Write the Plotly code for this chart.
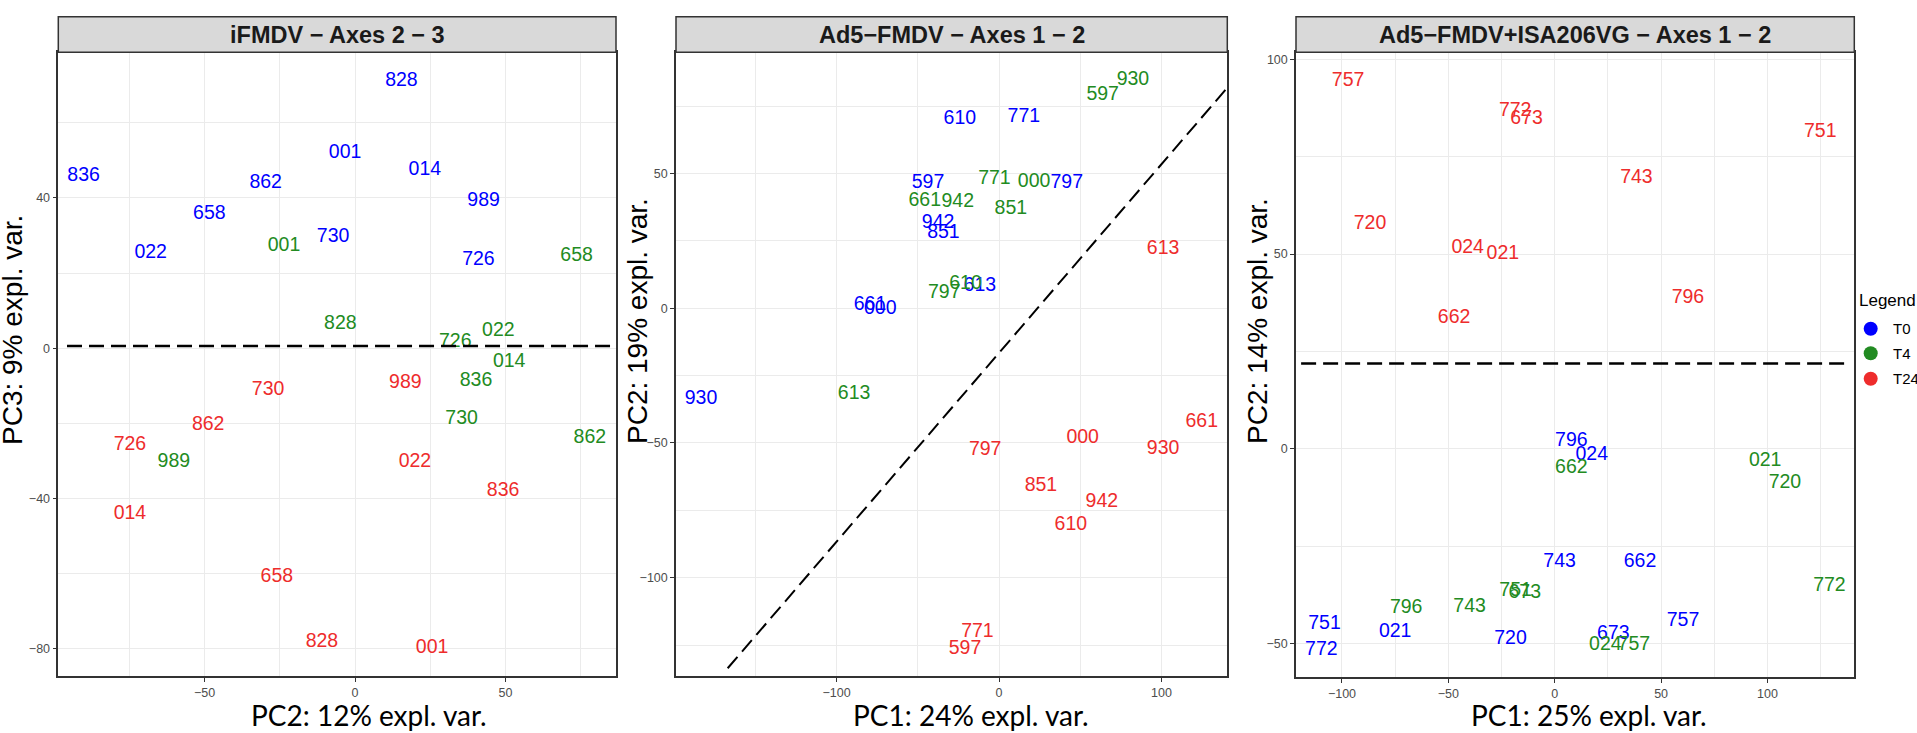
import plotly.graph_objects as go

# ------------------------------------------------------------------ data
groups = ["T0", "T4", "T24"]
group_colors = ["#0000FF", "#228B22", "#EE2C2C"]

# Panel 1 : iFMDV - Axes 2 - 3
p1_title = "iFMDV − Axes 2 − 3"
p1_xtitle = "PC2: 12% expl. var."
p1_ytitle = "PC3: 9% expl. var."
p1_ids = ["001", "014", "022", "658", "726", "730", "828", "836", "862", "989"]
p1_T0_x = [-3.3, 23.2, -67.9, -48.4, 41.0, -7.3, 15.4, -90.2, -29.7, 42.7]
p1_T0_y = [52.0, 47.5, 25.3, 35.7, 23.5, 29.6, 71.2, 45.9, 44.0, 39.2]
p1_T4_x = [-23.6, 51.2, 47.6, 73.6, 33.3, 35.4, -4.9, 40.2, 78.0, -60.2]
p1_T4_y = [27.2, -3.7, 4.5, 24.5, 1.6, -18.9, 6.4, -8.8, -24.0, -30.4]
p1_T24_x = [25.6, -74.8, 19.9, -26.0, -74.8, -28.9, -11.0, 49.2, -48.8, 16.7]
p1_T24_y = [-80.0, -44.3, -30.4, -61.0, -25.9, -11.2, -78.4, -38.1, -20.5, -9.3]
p1_hline_y = 0.6
p1_hline_x = [-95.7, 90.0]
p1_xrange = [-98.6, 86.7]
p1_yrange = [-87.3, 78.8]

# Panel 2 : Ad5-FMDV - Axes 1 - 2
p2_title = "Ad5−FMDV − Axes 1 − 2"
p2_xtitle = "PC1: 24% expl. var."
p2_ytitle = "PC2: 19% expl. var."
p2_ids = ["000", "597", "610", "613", "661", "771", "797", "851", "930", "942"]
p2_T0_x = [-73.1, -43.7, -24.1, -11.8, -79.4, 15.3, 41.7, -34.2, -183.4, -37.5]
p2_T0_y = [-0.4, 46.6, 70.3, 8.2, 1.1, 71.0, 46.4, 27.8, -33.8, 31.5]
p2_T4_x = [21.6, 63.8, -20.6, -89.2, -45.7, -2.8, -33.7, 7.3, 82.4, -25.4]
p2_T4_y = [46.8, 79.0, 8.9, -31.7, 39.8, 48.1, 5.5, 36.9, 84.5, 39.4]
p2_T24_x = [51.5, -20.9, 44.2, 101.0, 124.8, -13.3, -8.5, 25.8, 101.0, 63.3]
p2_T24_y = [-48.2, -126.5, -80.5, 22.0, -42.3, -120.3, -52.8, -66.2, -52.2, -71.9]
p2_line_slope = 0.7007
p2_line_intercept = -16.6
p2_line_x = [-167.0, 140.5]
p2_xrange = [-198.8, 140.5]
p2_yrange = [-136.5, 95.0]

# Panel 3 : Ad5-FMDV+ISA206VG - Axes 1 - 2
p3_title = "Ad5−FMDV+ISA206VG − Axes 1 − 2"
p3_xtitle = "PC1: 25% expl. var."
p3_ytitle = "PC2: 14% expl. var."
p3_ids = ["021", "024", "662", "673", "720", "743", "751", "757", "772", "796"]
p3_T0_x = [-75.0, 17.4, 40.1, 27.5, -20.8, 2.3, -108.2, 60.3, -109.7, 7.8]
p3_T0_y = [-47.2, -1.6, -29.0, -47.6, -49.0, -29.0, -45.0, -44.4, -51.7, 2.0]
p3_T4_x = [98.9, 23.8, 7.8, -14.1, 108.2, -40.0, -18.4, 37.2, 129.1, -69.8]
p3_T4_y = [-3.3, -50.4, -4.9, -37.1, -8.9, -40.6, -36.5, -50.4, -35.3, -41.0]
p3_T24_x = [-24.4, -40.9, -47.3, -13.2, -86.8, 38.4, 124.8, -97.1, -18.6, 62.6]
p3_T24_y = [50.0, 51.4, 33.5, 84.6, 57.7, 69.4, 81.2, 94.5, 86.8, 38.8]
p3_hline_y = 21.9
p3_hline_x = [-119.2, 136.7]
p3_xrange = [-121.6, 140.8]
p3_yrange = [-58.7, 101.8]

# ------------------------------------------------------------------ layout helpers
W, H = 1917, 733


def px(xp):
    return xp / W


def py(yp):
    return 1 - yp / H


STRIP_TOP = 16.7
PANEL_TOP = 52.3
panels = [
    dict(left=58.3, right=616.0, bottom=676.0, title=p1_title, xt=p1_xtitle, yt=p1_ytitle,
         ids=p1_ids, data=[(p1_T0_x, p1_T0_y), (p1_T4_x, p1_T4_y), (p1_T24_x, p1_T24_y)],
         xr=p1_xrange, yr=p1_yrange, xd=50, xm=25, yd=40, ym=20,
         xt_pos=(369, 715), yt_pos=(12, 330)),
    dict(left=676.0, right=1227.3, bottom=676.0, title=p2_title, xt=p2_xtitle, yt=p2_ytitle,
         ids=p2_ids, data=[(p2_T0_x, p2_T0_y), (p2_T4_x, p2_T4_y), (p2_T24_x, p2_T24_y)],
         xr=p2_xrange, yr=p2_yrange, xd=100, xm=50, yd=50, ym=25,
         xt_pos=(971, 715), yt_pos=(637, 321)),
    dict(left=1296.0, right=1854.3, bottom=677.3, title=p3_title, xt=p3_xtitle, yt=p3_ytitle,
         ids=p3_ids, data=[(p3_T0_x, p3_T0_y), (p3_T4_x, p3_T4_y), (p3_T24_x, p3_T24_y)],
         xr=p3_xrange, yr=p3_yrange, xd=50, xm=25, yd=50, ym=25,
         xt_pos=(1589, 715), yt_pos=(1257, 321)),
]

fig = go.Figure()
shapes = []
annotations = []
layout_axes = {}

GRID = "#EBEBEB"
BORDER = "#333333"

for i, p in enumerate(panels, start=1):
    xa = "x" if i == 1 else f"x{i}"
    ya = "y" if i == 1 else f"y{i}"
    for (gx, gy), g, c in zip(p["data"], groups, group_colors):
        fig.add_trace(go.Scatter(
            x=gx, y=gy, text=p["ids"], mode="text", name=g,
            textposition="middle center",
            textfont=dict(family="Liberation Sans, Arial, sans-serif", size=19.5, color=c),
            xaxis=xa, yaxis=ya, showlegend=False, hoverinfo="text", cliponaxis=True,
        ))
    common = dict(
        showgrid=True, gridcolor=GRID, gridwidth=1.1, zeroline=False,
        showline=True, mirror=True, linecolor=BORDER, linewidth=1.5,
        ticks="outside", ticklen=4, tickwidth=1.1, tickcolor=BORDER,
        tickfont=dict(family="Liberation Sans, Arial, sans-serif", size=12.5, color="#4D4D4D"),
        tickmode="linear", tick0=0, fixedrange=True,
    )
    layout_axes["xaxis" if i == 1 else f"xaxis{i}"] = dict(
        common, range=p["xr"], dtick=p["xd"],
        domain=[px(p["left"]), px(p["right"])], anchor=ya,
        minor=dict(dtick=p["xm"], tick0=0, showgrid=True, gridcolor=GRID, gridwidth=0.55, ticks=""),
    )
    layout_axes["yaxis" if i == 1 else f"yaxis{i}"] = dict(
        common, range=p["yr"], dtick=p["yd"],
        domain=[py(p["bottom"]), py(PANEL_TOP)], anchor=xa,
        minor=dict(dtick=p["ym"], tick0=0, showgrid=True, gridcolor=GRID, gridwidth=0.55, ticks=""),
    )
    # strip
    shapes.append(dict(type="rect", xref="paper", yref="paper",
                       x0=px(p["left"]), x1=px(p["right"]), y0=py(PANEL_TOP), y1=py(STRIP_TOP),
                       fillcolor="#D9D9D9", line=dict(color=BORDER, width=1.5), layer="above"))
    annotations.append(dict(xref="paper", yref="paper",
                            x=px((p["left"] + p["right"]) / 2), y=py((STRIP_TOP + PANEL_TOP) / 2),
                            text=p["title"], showarrow=False, xanchor="center", yanchor="middle",
                            font=dict(family="Liberation Sans, Arial, sans-serif", size=23.5,
                                      color="#1A1A1A", weight="bold")))
    # axis titles
    annotations.append(dict(xref="paper", yref="paper",
                            x=px(p["xt_pos"][0]), y=py(p["xt_pos"][1]),
                            text=p["xt"], showarrow=False, xanchor="center", yanchor="middle",
                            font=dict(family="Lato, Open Sans, sans-serif", size=28, color="#000000")))
    annotations.append(dict(xref="paper", yref="paper",
                            x=px(p["yt_pos"][0]), y=py(p["yt_pos"][1]), textangle=-90,
                            text=p["yt"], showarrow=False, xanchor="center", yanchor="middle",
                            font=dict(family="Liberation Sans, Arial, sans-serif", size=28, color="#000000")))

# dashed reference lines
DASH = "15px,7px"
shapes.append(dict(type="line", xref="x", yref="y", x0=p1_hline_x[0], x1=p1_hline_x[1],
                   y0=p1_hline_y, y1=p1_hline_y, line=dict(color="#000000", width=2.5, dash=DASH)))
shapes.append(dict(type="line", xref="x2", yref="y2",
                   x0=p2_line_x[0], x1=p2_line_x[1],
                   y0=p2_line_slope * p2_line_x[0] + p2_line_intercept,
                   y1=p2_line_slope * p2_line_x[1] + p2_line_intercept,
                   line=dict(color="#000000", width=2.0, dash=DASH)))
shapes.append(dict(type="line", xref="x3", yref="y3", x0=p3_hline_x[0], x1=p3_hline_x[1],
                   y0=p3_hline_y, y1=p3_hline_y, line=dict(color="#000000", width=2.5, dash=DASH)))

# legend (drawn manually to match ggplot placement)
annotations.append(dict(xref="paper", yref="paper", x=px(1857), y=py(300), text="Legend",
                        showarrow=False, xanchor="left", yanchor="middle",
                        font=dict(family="Liberation Sans, Arial, sans-serif", size=17, color="#000000")))
legend_y = [328.7, 353.3, 378.7]
for g, c, ly in zip(groups, group_colors, legend_y):
    r = 7
    shapes.append(dict(type="circle", xref="paper", yref="paper",
                       x0=px(1870.7 - r), x1=px(1870.7 + r), y0=py(ly + r), y1=py(ly - r),
                       fillcolor=c, line=dict(color=c, width=0)))
    annotations.append(dict(xref="paper", yref="paper", x=px(1891), y=py(ly), text=g,
                            showarrow=False, xanchor="left", yanchor="middle",
                            font=dict(family="Liberation Sans, Arial, sans-serif", size=15, color="#000000")))

fig.update_layout(
    width=W, height=H, autosize=False,
    margin=dict(l=0, r=0, t=0, b=0, pad=0),
    paper_bgcolor="white", plot_bgcolor="white",
    showlegend=False,
    shapes=shapes, annotations=annotations,
    **layout_axes,
)

fig.write_html(
    "out.html",
    config={"displayModeBar": False},
    post_script="document.body.style.margin='0px';document.body.style.overflow='hidden';"
                "document.documentElement.style.overflow='hidden';",
)
